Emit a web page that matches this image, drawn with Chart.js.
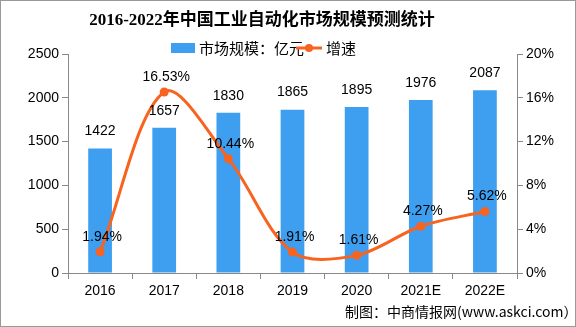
<!DOCTYPE html>
<html><head><meta charset="utf-8">
<script src="https://cdn.jsdelivr.net/npm/chart.js@4/dist/chart.umd.min.js"></script>
<style>html,body{margin:0;padding:0;background:#fff;}#wrap{width:576px;height:327px;position:relative;}</style>
</head><body><div id="wrap"><canvas id="c" width="576" height="327"></canvas></div>
<script>
const categories = ['2016','2017','2018','2019','2020','2021E','2022E'];
const marketSize = [1422,1657,1830,1865,1895,1976,2087];
const growthRate = [1.94,16.53,10.44,1.91,1.61,4.27,5.62];
const leftTicks = [0,500,1000,1500,2000,2500];
const rightTicks = [0,4,8,12,16,20];
const titleText = '2016-2022年中国工业自动化市场规模预测统计';
const legendBar = '市场规模：亿元';
const legendLine = '增速';
const footerText = '制图：中商情报网(www.askci.com）';

const BAR = '#3e9ef0', LINE = '#f8631f', AX = '#888888';
const TICKFONT = {family:'"Liberation Sans","Noto Sans CJK SC"', size:14};

const deco = {
  id:'deco',
  afterDatasetsDraw(chart){
    const ctx = chart.ctx;
    ctx.save();
    ctx.fillStyle = '#000';
    ctx.font = '14px "Liberation Sans","Noto Sans CJK SC"';
    ctx.textAlign = 'center'; ctx.textBaseline = 'middle';
    chart.getDatasetMeta(0).data.forEach((b,i)=>{
      ctx.fillText(String(marketSize[i]), b.x, b.y - 17);
    });
    chart.getDatasetMeta(1).data.forEach((p,i)=>{
      ctx.fillText(growthRate[i].toFixed(2)+'%', p.x + 2, p.y - 15);
    });
    ctx.restore();
  },
  afterDraw(chart){
    const ctx = chart.ctx;
    ctx.save();
    ctx.strokeStyle = '#999'; ctx.lineWidth = 1;
    ctx.strokeRect(0.5,0.5,575,326);
    ctx.fillStyle = '#000';
    ctx.font = 'bold 17px "Liberation Serif","Noto Sans CJK SC"';
    ctx.textAlign = 'center'; ctx.textBaseline = 'middle';
    ctx.fillText(titleText, 262, 21);
    ctx.fillStyle = BAR;
    ctx.fillRect(171, 43, 24, 10);
    ctx.fillStyle = '#000';
    ctx.font = '15px "Noto Sans CJK SC"';
    ctx.textAlign = 'left';
    ctx.fillText(legendBar, 199, 48);
    ctx.strokeStyle = LINE; ctx.lineWidth = 3;
    ctx.beginPath(); ctx.moveTo(296,48); ctx.lineTo(322,48); ctx.stroke();
    ctx.fillStyle = LINE;
    ctx.beginPath(); ctx.arc(309,48,4,0,Math.PI*2); ctx.fill();
    ctx.fillStyle = '#000';
    ctx.fillText(legendLine, 326, 48);
    ctx.font = '14px "Noto Sans CJK SC"';
    ctx.fillText(footerText, 345, 312);
    ctx.restore();
  }
};

new Chart(document.getElementById('c'), {
  data:{
    labels: categories,
    datasets:[
      {type:'bar', label:legendBar, data:marketSize, backgroundColor:BAR, yAxisID:'y',
       barPercentage:0.37, categoryPercentage:1, order:2},
      {type:'line', label:legendLine, data:growthRate, borderColor:LINE, backgroundColor:LINE,
       borderWidth:3, tension:0.33, pointRadius:4.5, pointBackgroundColor:LINE, pointBorderWidth:0,
       yAxisID:'y1', order:1}
    ]
  },
  options:{
    responsive:false, animation:false,
    layout:{padding:{top:54,left:0,right:0,bottom:0}},
    plugins:{legend:{display:false}, title:{display:false}, tooltip:{enabled:false}},
    scales:{
      x:{
        grid:{display:true, drawOnChartArea:false, drawTicks:true, tickLength:6, color:AX, offset:true},
        border:{display:true, color:AX},
        ticks:{color:'#000', font:TICKFONT, padding:4, maxRotation:0},
        afterFit(s){ s.height = 54; }
      },
      y:{
        position:'left', min:0, max:2500,
        afterBuildTicks(s){ s.ticks = leftTicks.map(v=>({value:v})); },
        grid:{display:true, drawOnChartArea:false, drawTicks:true, tickLength:6, color:AX},
        border:{display:true, color:AX},
        ticks:{color:'#000', font:TICKFONT, padding:3, callback:v=>String(v)},
        afterFit(s){ s.width = 68; }
      },
      y1:{
        position:'right', min:0, max:20,
        afterBuildTicks(s){ s.ticks = rightTicks.map(v=>({value:v})); },
        grid:{display:true, drawOnChartArea:false, drawTicks:true, tickLength:6, color:AX},
        border:{display:true, color:AX},
        ticks:{color:'#000', font:TICKFONT, padding:3, callback:v=>v+'%'},
        afterFit(s){ s.width = 59; }
      }
    }
  },
  plugins:[deco]
});
</script></body></html>
